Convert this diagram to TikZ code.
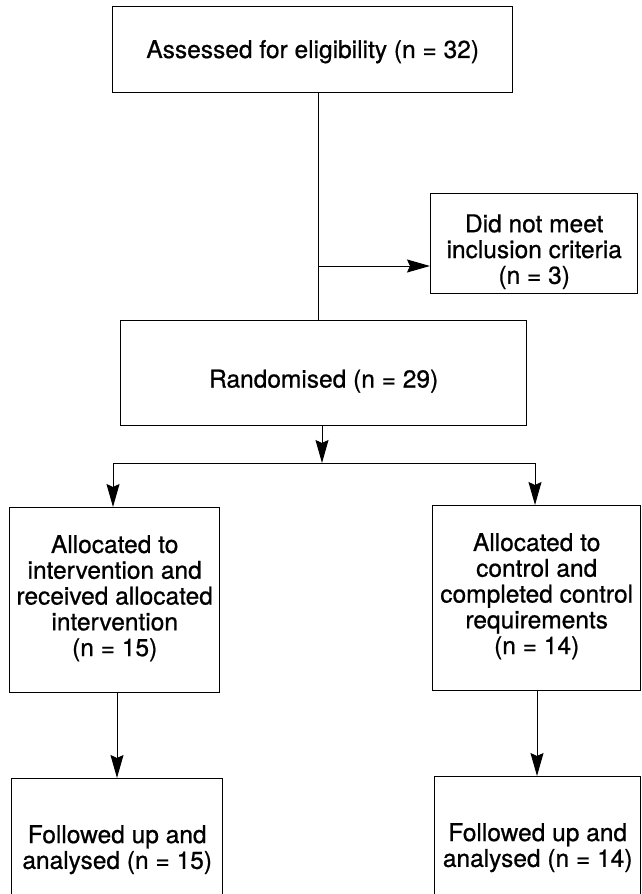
\documentclass[tikz,border=0pt]{standalone}
\usepackage{fontspec}
\setmainfont{TeX Gyre Heros}[FakeBold=0.7]
\usetikzlibrary{arrows.meta}
\begin{document}
\begin{tikzpicture}[x=1pt,y=-1pt,
  box/.style={draw, line width=1.4pt, rectangle, anchor=north west, inner sep=0pt},
  txt/.style={align=center, inner sep=0pt, font=\fontsize{24.5}{25.8}\selectfont},
  conn/.style={line width=1pt},
  arr/.style={conn, -{Stealth[length=23pt,width=13pt,inset=3pt]}}]
\useasboundingbox[fill=white] (0,0) rectangle (641,894);
% boxes
\node[box, minimum width=400pt, minimum height=86pt] (b1) at (112,6) {};
\node[box, minimum width=207pt, minimum height=100pt] (b2) at (430,193) {};
\node[box, minimum width=406pt, minimum height=105pt] (b3) at (120,320) {};
\node[box, minimum width=210pt, minimum height=185pt] (b4) at (9,507) {};
\node[box, minimum width=208pt, minimum height=185pt] (b5) at (432,505) {};
\node[box, minimum width=211pt, minimum height=134pt] (b6) at (11,778) {};
\node[box, minimum width=206pt, minimum height=136pt] (b7) at (434,776) {};
% texts
\node[txt, yshift=-2pt] (t1) at (b1.center) {Assessed for eligibility (n = 32)};
\node[txt, yshift=-8pt] (t2) at (b2.center) {Did not meet\\inclusion criteria\\(n = 3)};
\node[txt, yshift=-8pt] (t3) at (b3.center) {Randomised (n = 29)};
\node[txt, yshift=2pt] (t4) at (b4.center) {Allocated to\\intervention and\\received allocated\\intervention\\(n = 15)};
\node[txt, yshift=2pt] (t5) at (b5.center) {Allocated to\\control and\\completed control\\requirements\\(n = 14)};
\node[txt, yshift=-4pt] (t6) at (b6.center) {Followed up and\\analysed (n = 15)};
\node[txt, yshift=-3pt] (t7) at (b7.center) {Followed up and\\analysed (n = 14)};
% connectors
\coordinate (c1) at (318,266);
\coordinate (c2) at (322,463);
\coordinate (L) at (113,463);
\coordinate (R) at (535,463);
\coordinate (dl) at (117,0);
\coordinate (dr) at (537,0);
\draw[conn] (b1.south -| c1) -- (b3.north -| c1);
\draw[arr] (c1) -- (b2.west |- c1);
\draw[arr] (b3.south -| c2) -- (c2);
\draw[conn] (L) -- (R);
\draw[arr] (L) -- (b4.north -| L);
\draw[arr] (R) -- (b5.north -| R);
\draw[arr] (b4.south -| dl) -- (b6.north -| dl);
\draw[arr] (b5.south -| dr) -- (b7.north -| dr);
\end{tikzpicture}
\end{document}
